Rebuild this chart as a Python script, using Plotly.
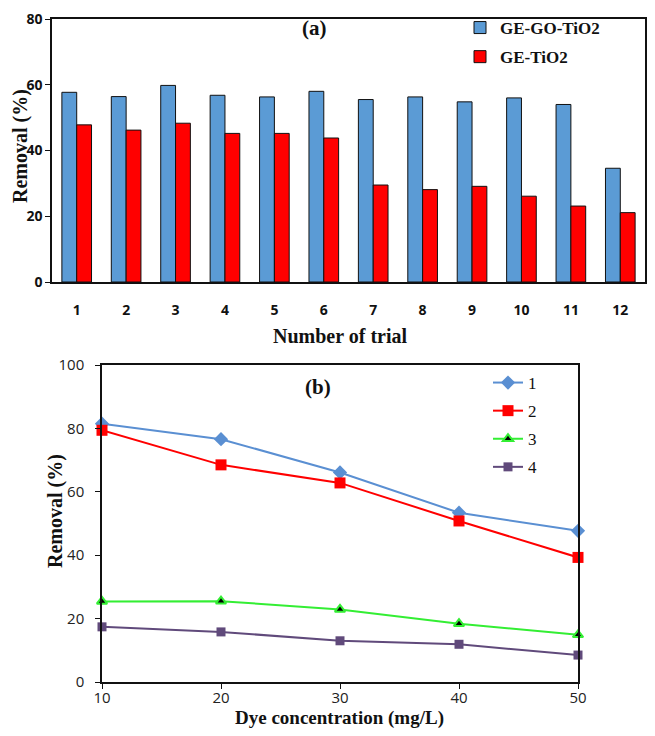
import plotly.graph_objects as go

# ---- Data (a) ----
trials = [str(i) for i in range(1, 13)]
ge_go_tio2 = [57.7, 56.4, 59.8, 56.8, 56.3, 58.0, 55.5, 56.3, 54.8, 56.0, 54.0, 34.6]
ge_tio2 = [47.8, 46.2, 48.3, 45.2, 45.2, 43.8, 29.5, 28.1, 29.1, 26.1, 23.1, 21.1]

# ---- Data (b) ----
dye_conc = [10, 20, 30, 40, 50]
series_1 = [81.5, 76.6, 66.1, 53.4, 47.7]
series_2 = [79.4, 68.5, 62.8, 50.8, 39.3]
series_3 = [25.4, 25.5, 22.9, 18.4, 14.9]
series_4 = [17.4, 15.8, 13.0, 11.9, 8.5]

# page has an 8px body margin; figure sized so the page does not scroll
OFF = 8
W, H = 655 - 2 * OFF, 736 - 2 * OFF
def py(s):  # screen pixel y -> paper
    return 1 - (s - OFF) / H
def px(s):
    return (s - OFF) / W

serif = "Liberation Serif"
sans = "Open Sans"

fig = go.Figure()

fig.add_trace(go.Bar(x=trials, y=ge_go_tio2, name="GE-GO-TiO2",
                     marker=dict(color="#5B9BD5", line=dict(color="#111", width=1)),
                     xaxis="x", yaxis="y", legend="legend", legendgroup="a1"))
fig.add_trace(go.Bar(x=trials, y=ge_tio2, name="GE-TiO2",
                     marker=dict(color="#FF0000", line=dict(color="#111", width=1)),
                     xaxis="x", yaxis="y", legend="legend", legendgroup="a2"))

line_specs = [
    ("1", series_1, "#5A8FD2", dict(symbol="diamond", size=11, color="#5A8FD2")),
    ("2", series_2, "#FF0000", dict(symbol="square", size=11, color="#FF0000")),
    ("3", series_3, "#33EE33", dict(symbol="triangle-up", size=9, color="#000000",
                                      line=dict(color="#33EE33", width=2))),
    ("4", series_4, "#604A7B", dict(symbol="square", size=9, color="#604A7B")),
]
for i, (nm, ys, col, mk) in enumerate(line_specs):
    fig.add_trace(go.Scatter(x=dye_conc, y=ys, name=nm, mode="lines+markers",
                             line=dict(color=col, width=2), marker=mk,
                             xaxis="x2", yaxis="y2", legend="legend2",
                             legendgroup="b%d" % i, cliponaxis=False))

axis_common = dict(showgrid=False, zeroline=False, showline=True, linecolor="#111",
                   linewidth=1.5, mirror=True, automargin=False, ticklabeloverflow="allow")

fig.update_layout(
    width=W, height=H, margin=dict(l=0, r=0, t=0, b=0),
    paper_bgcolor="white", plot_bgcolor="white",
    barmode="group", bargap=0.4, bargroupgap=0,
    showlegend=True,
    xaxis=dict(domain=[px(52), px(645)], anchor="y", ticks="", ticklabelstandoff=14,
               tickfont=dict(family=sans, size=14, color="#111", weight="bold"),
               **axis_common),
    yaxis=dict(domain=[py(282), py(19)], anchor="x", range=[0, 80], dtick=20,
               ticks="outside", ticklen=5, tickcolor="#111",
               tickfont=dict(family=sans, size=14, color="#111", weight="bold"),
               **axis_common),
    xaxis2=dict(domain=[px(102), px(578)], anchor="y2", range=[10, 50], dtick=10,
                ticks="outside", ticklen=5, tickcolor="#111", ticklabelstandoff=-4,
                tickfont=dict(family=sans, size=15, color="#222"),
                **axis_common),
    yaxis2=dict(domain=[py(682), py(365)], anchor="x2", range=[0, 100], dtick=20,
                ticks="outside", ticklen=5, tickcolor="#111", ticklabelstandoff=8,
                tickfont=dict(family=sans, size=15, color="#222"),
                **axis_common),
    legend=dict(x=px(460), y=py(10), xanchor="left", yanchor="top",
                bgcolor="rgba(0,0,0,0)", tracegroupgap=4, itemwidth=30,
                font=dict(family=serif, size=17, color="#111", weight="bold")),
    legend2=dict(x=px(488), y=py(365), xanchor="left", yanchor="top",
                 bgcolor="rgba(0,0,0,0)", tracegroupgap=3, itemwidth=30,
                 font=dict(family=serif, size=17, color="#111")),
)

ann_font_b = dict(family=serif, size=20, color="#111", weight="bold")
annotations = [
    dict(text="(a)", x=px(314), y=py(28), font=dict(family=serif, size=21, color="#111", weight="bold")),
    dict(text="(b)", x=px(318), y=py(387), font=dict(family=serif, size=21, color="#111", weight="bold")),
    dict(text="Removal (%)", x=px(20), y=py(146), textangle=-90, font=ann_font_b),
    dict(text="Removal (%)", x=px(55), y=py(511), textangle=-90, font=ann_font_b),
    dict(text="Number of trial", x=px(340), y=py(336), font=ann_font_b),
    dict(text="Dye concentration (mg/L)", x=px(340), y=py(718),
         font=dict(family=serif, size=19, color="#111", weight="bold")),
]
for a in annotations:
    a.update(xref="paper", yref="paper", showarrow=False, xanchor="center", yanchor="middle")
fig.update_layout(annotations=annotations)

fig.write_html("out.html")
